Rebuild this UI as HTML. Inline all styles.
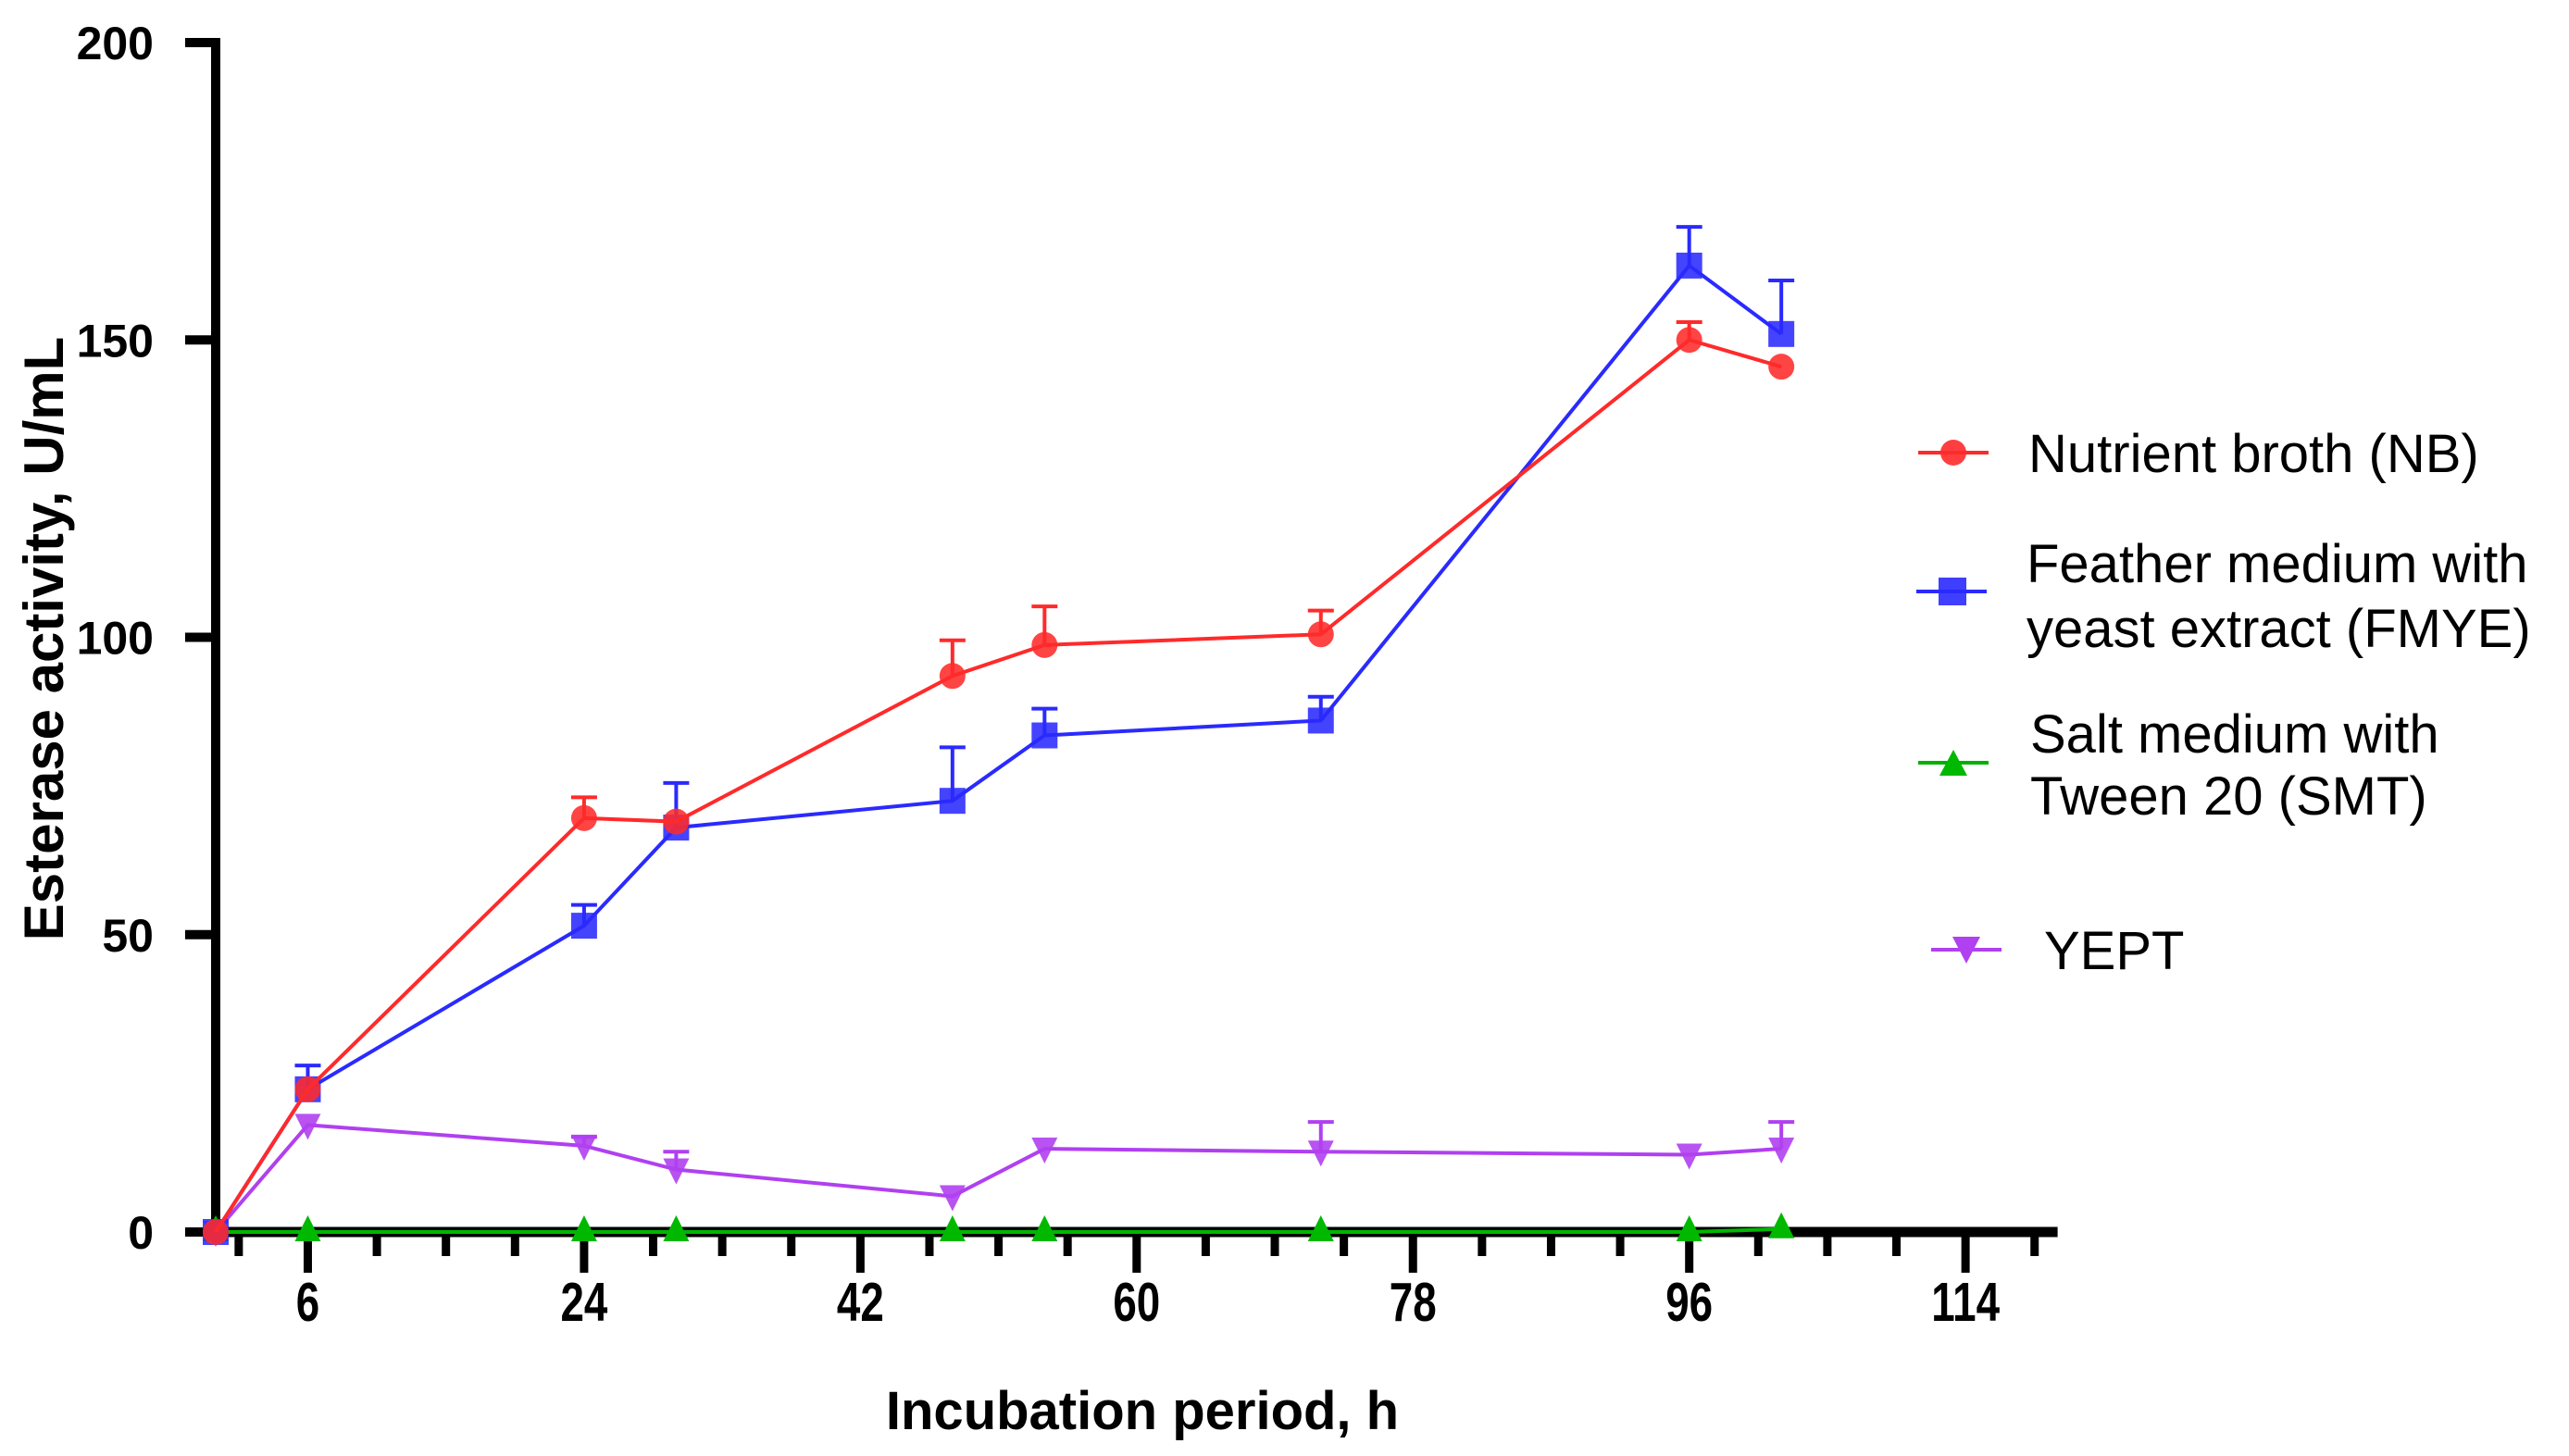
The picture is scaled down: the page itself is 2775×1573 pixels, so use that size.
<!DOCTYPE html>
<html><head><meta charset="utf-8"><style>
html,body{margin:0;padding:0;background:#fff;}
svg{display:block;font-family:"Liberation Sans",Arial,sans-serif;}
</style></head><body>
<svg id="chart" width="2775" height="1573" viewBox="0 0 2775 1573" xmlns="http://www.w3.org/2000/svg">
<g id="axes"></g>
<g id="series"></g>
<text x="1234" y="1544" font-size="58" font-weight="bold" text-anchor="middle">Incubation period, h</text>
<text transform="translate(68,690) rotate(-90)" font-size="60" font-weight="bold" text-anchor="middle">Esterase activity, U/mL</text>
<g id="legend" transform="translate(-10,0)">
 <g>
  <line x1="2082" y1="489" x2="2158" y2="489" stroke="#ff2a2a" stroke-width="4"/>
  <circle cx="2120" cy="489" r="14" fill="#ff2a2a" fill-opacity="0.9"/>
  <text x="2201" y="510" font-size="58">Nutrient broth (NB)</text>
 </g>
 <g>
  <line x1="2080" y1="639" x2="2156" y2="639" stroke="#2a2aff" stroke-width="4"/>
  <rect x="2104" y="624" width="30" height="30" fill="#2a2aff" fill-opacity="0.9"/>
  <text x="2199" y="629" font-size="58">Feather medium with</text>
  <text x="2199" y="699" font-size="58">yeast extract (FMYE)</text>
 </g>
 <g>
  <line x1="2082" y1="824" x2="2158" y2="824" stroke="#00b000" stroke-width="4"/>
  <polygon points="2120,810 2135,838 2105,838" fill="#00b800"/>
  <text x="2203" y="813" font-size="58">Salt medium with</text>
  <text x="2203" y="880" font-size="58">Tween 20 (SMT)</text>
 </g>
 <g>
  <line x1="2096" y1="1026" x2="2172" y2="1026" stroke="#b040f0" stroke-width="4"/>
  <polygon points="2119,1012 2149,1012 2134,1041" fill="#b040f0"/>
  <text x="2218" y="1047" font-size="58">YEPT</text>
 </g>
</g>
</svg>
<script>
const times = [0, 6, 24, 30, 48, 54, 72, 96, 102];
const nbValues = [0, 24, 69.6, 69, 93.5, 98.7, 100.5, 150, 145.5];
const nbErrors = [0, 0, 3.5, 0, 6, 6.5, 4, 3, 0];
const fmyeValues = [0, 24, 51.5, 68, 72.5, 83.5, 86, 162.5, 151];
const fmyeErrors = [0, 4, 3.5, 7.5, 9, 4.5, 4, 6.5, 9];
const smtValues = [0, 0, 0, 0, 0, 0, 0, 0, 0.5];
const yeptValues = [0, 18, 14.5, 10.5, 6, 14, 13.5, 13, 14];
const yeptErrors = [0, 0, 1.5, 3, 0, 0, 5, 0, 4.5];
const yTicks = [0, 50, 100, 150, 200];
const xTicks = [6, 24, 42, 60, 78, 96, 114];

const NS = "http://www.w3.org/2000/svg";
const X0 = 233, PXH = 16.58, Y0 = 1331, PXU = (1331 - 46) / 200;
function xs(t){ return X0 + t * PXH; }
function ys(v){ return Y0 - v * PXU; }
function mk(tag, attrs, parent){
  const e = document.createElementNS(NS, tag);
  for (const k in attrs) e.setAttribute(k, attrs[k]);
  parent.appendChild(e);
  return e;
}
const axes = document.getElementById('axes');
const series = document.getElementById('series');

let e = mk('line', {x1: X0, y1: ys(200) - 5, x2: X0, y2: Y0 + 5, stroke: '#000', 'stroke-width': 10}, axes);


yTicks.forEach(v => {
  const t = mk('line', {x1: 200, y1: ys(v), x2: X0, y2: ys(v), stroke: '#000', 'stroke-width': 10}, axes);
  
  
  const l = mk('text', {x: 166, y: ys(v) + 18, 'font-size': 50, 'font-weight': 'bold', 'text-anchor': 'end'}, axes);
  l.textContent = v;
  
  
});
e = mk('line', {x1: X0 - 5, y1: Y0, x2: xs(120), y2: Y0, stroke: '#000', 'stroke-width': 11}, axes);


for (let t = 1.5; t <= 119; t += 4.5) {
  const major = xTicks.indexOf(t) >= 0;
  const m = mk('line', {x1: xs(t), y1: Y0, x2: xs(t), y2: Y0 + (major ? 44 : 26), stroke: '#000', 'stroke-width': 9}, axes);
  
  
}
xTicks.forEach(t => {
  const l = mk('text', {x: xs(t), y: Y0 + 96, 'font-size': 52, 'font-weight': 'bold', 'text-anchor': 'middle'}, axes);
  l.setAttribute('transform', `translate(${xs(t)},${Y0 + 96}) scale(0.88,1.15) translate(${-xs(t)},${-(Y0 + 96)})`);
  l.textContent = t;
  
  
});

function drawSeries(name, vals, errs, color, shape){
  const g = mk('g', {}, series);
  
  
  const pts = times.map((t, i) => xs(t) + ',' + ys(vals[i])).join(' ');
  const pl = mk('polyline', {points: pts, fill: 'none', stroke: color, 'stroke-width': 4}, g);
  
  
  times.forEach((t, i) => {
    const x = xs(t), y = ys(vals[i]);
    if (errs && errs[i] > 0) {
      const ye = ys(vals[i] + errs[i]);
      const eb = mk('path', {d: `M${x},${y} V${ye} M${x-14},${ye} H${x+14}`, stroke: color, 'stroke-width': 4, fill: 'none'}, g);
      
      
    }
    let m;
    if (shape === 'circle') m = mk('circle', {cx: x, cy: y, r: 14, fill: color, 'fill-opacity': 0.88}, g);
    else if (shape === 'square') m = mk('rect', {x: x - 14, y: y - 14, width: 28, height: 28, fill: color, 'fill-opacity': 0.88}, g);
    else if (shape === 'up') m = mk('polygon', {points: `${x},${y-18} ${x+14},${y+10} ${x-14},${y+10}`, fill: color}, g);
    else m = mk('polygon', {points: `${x-14},${y-12} ${x+14},${y-12} ${x},${y+16}`, fill: color, 'fill-opacity': 0.9}, g);
    
    
  });
}
drawSeries('smt', smtValues, null, '#00b800', 'up');
drawSeries('yept', yeptValues, yeptErrors, '#b040f0', 'down');
drawSeries('fmye', fmyeValues, fmyeErrors, '#2a2aff', 'square');
drawSeries('nb', nbValues, nbErrors, '#ff2a2a', 'circle');
</script>
</body></html>
